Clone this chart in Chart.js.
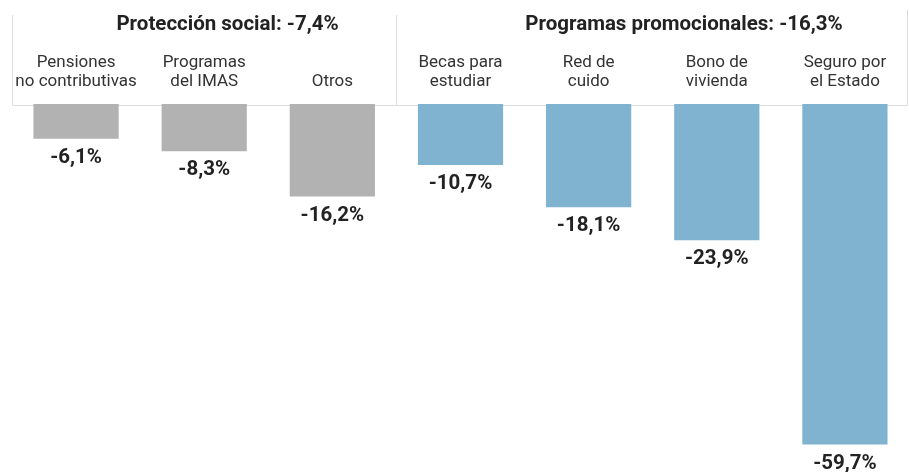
<!DOCTYPE html>
<html>
<head>
<meta charset="utf-8">
<script src="https://cdn.jsdelivr.net/npm/chart.js@4/dist/chart.umd.min.js"></script>
<style>
  html, body { margin: 0; padding: 0; background: #fff; }
  canvas { display: block; }
</style>
</head>
<body>
<canvas id="myChart" width="909" height="472"></canvas>
<script>
const categories = [
  ["Pensiones", "no contributivas"],
  ["Programas", "del IMAS"],
  "Otros",
  ["Becas para", "estudiar"],
  ["Red de", "cuido"],
  ["Bono de", "vivienda"],
  ["Seguro por", "el Estado"],
];
const values = [-6.1, -8.3, -16.2, -10.7, -18.1, -23.9, -59.7];
const groupTitles = ["Protección social: -7,4%", "Programas promocionales: -16,3%"];
const groupSizes = [3, 4];

const grayColor = "#b2b2b2";
const blueColor = "#80b3cf";
const textColor = "#222222";
const lineColor = "#dcdcdc";
const fontFamily = "Roboto, 'Noto Sans', sans-serif";

const barColors = values.map((v, i) => (i < groupSizes[0] ? grayColor : blueColor));

const formatValue = (v) => v.toFixed(1).replace(".", ",") + "%";

// header box, group titles and value labels
const headerPlugin = {
  id: "header",
  beforeDatasetsDraw(chart) {
    const { ctx, chartArea } = chart;
    const x = chart.scales.x;
    const step = x.getPixelForValue(1) - x.getPixelForValue(0);
    const left = chartArea.left + 0.5;
    const right = chartArea.right - 1.5;
    const bottom = chartArea.top + 1.5;
    const divider = Math.round(x.getPixelForValue(groupSizes[0] - 1) + step / 2) + 0.5;

    ctx.save();
    ctx.strokeStyle = lineColor;
    ctx.lineWidth = 1;
    ctx.beginPath();
    ctx.moveTo(left, 15);
    ctx.lineTo(left, bottom);
    ctx.lineTo(right, bottom);
    ctx.lineTo(right, 10);
    ctx.moveTo(divider, 15);
    ctx.lineTo(divider, bottom);
    ctx.stroke();

    ctx.fillStyle = textColor;
    ctx.font = "bold 20.5px " + fontFamily;
    ctx.textAlign = "center";
    ctx.textBaseline = "middle";
    ctx.fillText(groupTitles[0], (left + divider) / 2 + 23, 25);
    ctx.fillText(groupTitles[1], (divider + right) / 2 + 32, 25);
    ctx.restore();
  },
  afterDatasetsDraw(chart) {
    const { ctx } = chart;
    const meta = chart.getDatasetMeta(0);
    ctx.save();
    ctx.fillStyle = textColor;
    ctx.font = "bold 20.5px " + fontFamily;
    ctx.textAlign = "center";
    ctx.textBaseline = "middle";
    meta.data.forEach((bar, i) => {
      ctx.fillText(formatValue(values[i]), bar.x, bar.y + 19);
    });
    ctx.restore();
  },
};

const ctx = document.getElementById("myChart");
new Chart(ctx, {
  type: "bar",
  data: {
    labels: categories,
    datasets: [
      {
        data: values,
        backgroundColor: barColors,
        borderWidth: 0,
        barPercentage: 0.665,
        categoryPercentage: 1,
      },
    ],
  },
  options: {
    responsive: false,
    animation: false,
    devicePixelRatio: 1,
    layout: { padding: { left: 12, right: 0, top: 0, bottom: 3 } },
    plugins: {
      legend: { display: false },
      tooltip: { enabled: false },
    },
    scales: {
      x: {
        position: "top",
        grid: { display: false, drawTicks: false },
        border: { display: false },
        ticks: {
          color: "#333333",
          font: { family: fontFamily, size: 17, lineHeight: 1.15 },
          padding: 12,
          maxRotation: 0,
          autoSkip: false,
        },
        afterFit(scale) {
          scale.height = 104;
        },
      },
      y: {
        display: false,
        min: -64,
        max: 0,
      },
    },
  },
  plugins: [headerPlugin],
});
</script>
</body>
</html>
